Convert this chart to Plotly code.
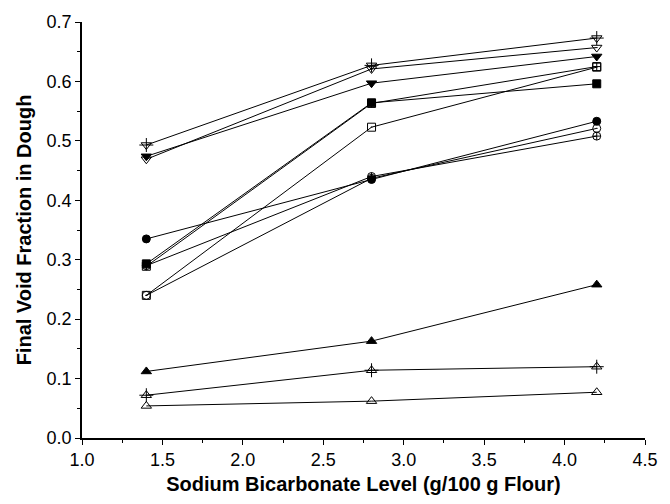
import plotly.graph_objects as go

# Sodium bicarbonate levels (g/100 g flour)
soda_level = [1.4, 2.8, 4.2]

# Final void fraction in dough, one list per formulation
tri_down_cross = [0.493, 0.627, 0.673]
tri_down_dot = [0.469, 0.621, 0.657]
tri_down_filled = [0.474, 0.597, 0.642]
square_filled = [0.293, 0.564, 0.596]
square_cross = [0.289, 0.563, 0.625]
square_dot = [0.240, 0.523, 0.624]
circle_filled = [0.335, 0.435, 0.533]
circle_dot = [0.240, 0.437, 0.521]
circle_cross = [0.290, 0.440, 0.508]
tri_up_filled = [0.112, 0.163, 0.258]
tri_up_cross = [0.072, 0.114, 0.120]
tri_up_open = [0.054, 0.062, 0.077]

x_ticks = [1.0, 1.5, 2.0, 2.5, 3.0, 3.5, 4.0, 4.5]
y_ticks = [0.0, 0.1, 0.2, 0.3, 0.4, 0.5, 0.6, 0.7]

# (values, marker symbol, marker size, add a thin cross on top)
series = [
    (tri_up_open, "triangle-up-open", 9, False),
    (tri_up_cross, "triangle-up-open", 9, True),
    (tri_up_filled, "triangle-up", 9, False),
    (circle_cross, "circle-cross-open", 8, False),
    (circle_dot, "circle-open-dot", 8, False),
    (circle_filled, "circle", 8, False),
    (square_dot, "square-open-dot", 8, False),
    (square_cross, "square-cross-open", 8, False),
    (square_filled, "square", 8, False),
    (tri_down_filled, "triangle-down", 9, False),
    (tri_down_dot, "triangle-down-open-dot", 9, False),
    (tri_down_cross, "triangle-down-open", 9, True),
]

fig = go.Figure()
for values, symbol, size, crossed in series:
    fig.add_trace(go.Scatter(
        x=soda_level, y=values, mode="lines+markers",
        line=dict(color="black", width=1),
        marker=dict(symbol=symbol, size=size, color="black",
                    line=dict(color="black", width=1)),
        showlegend=False, cliponaxis=False,
    ))
    if crossed:
        fig.add_trace(go.Scatter(
            x=soda_level, y=values, mode="markers",
            marker=dict(symbol="cross-thin", size=10, color="black",
                        line=dict(color="black", width=1)),
            showlegend=False, cliponaxis=False, hoverinfo="skip",
        ))

FONT = "Liberation Sans, Arial, sans-serif"

axis_common = dict(
    showline=True, linecolor="black", linewidth=1.5, mirror=False,
    ticks="outside", ticklen=5, tickwidth=1.2, tickcolor="black",
    showgrid=False, zeroline=False,
    tickfont=dict(family=FONT, size=18, color="black"),
)

fig.update_xaxes(
    range=[1.0, 4.5], tickvals=x_ticks, ticktext=[f"{v:.1f}" for v in x_ticks],
    minor=dict(dtick=0.25, tick0=1.0, ticks="outside", ticklen=3, tickcolor="black", tickwidth=1),
    title=dict(text="<b>Sodium Bicarbonate Level (g/100 g Flour)</b>",
               font=dict(family=FONT, size=20, color="black"),
               standoff=8),
    **axis_common,
)
fig.update_yaxes(
    range=[0.0, 0.7], tickvals=y_ticks, ticktext=[f"{v:.1f}" for v in y_ticks],
    minor=dict(dtick=0.05, tick0=0.0, ticks="outside", ticklen=3, tickcolor="black", tickwidth=1),
    title=dict(text="<b>Final Void Fraction in Dough</b>",
               font=dict(family=FONT, size=20, color="black"),
               standoff=10),
    **axis_common,
)

fig.update_layout(
    width=670, height=504,
    margin=dict(l=82, r=15, t=21, b=63),
    plot_bgcolor="white", paper_bgcolor="white",
)

fig.write_html("out.html")
